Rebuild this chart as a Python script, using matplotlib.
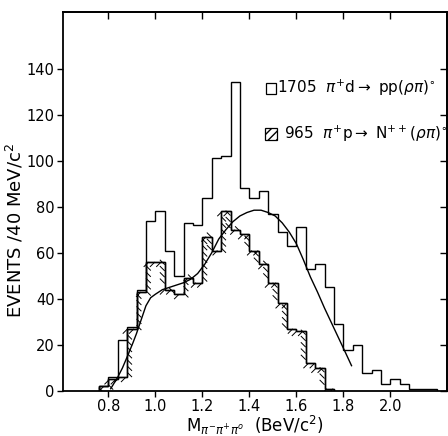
import numpy as np
import matplotlib
matplotlib.use('Agg')
import matplotlib.pyplot as plt
import matplotlib.patheffects as pe
from matplotlib.patches import Rectangle

# 40 MeV bins starting at 0.76 BeV
bin_start = 0.76
bin_width = 0.04

# pi+ d -> pp (rho pi)0  (open histogram)
open_counts = [2, 6, 22, 28, 44, 74, 78, 61, 50, 73, 72, 84,
               101, 102, 134, 88, 84, 87, 77, 69, 63, 71, 53, 55,
               45, 29, 18, 20, 8, 9, 3, 5, 3, 1, 1, 1]

# pi+ p -> N++ (rho pi)0  (hatched histogram)
hatched_counts = [2, 5, 6, 27, 43, 56, 56, 44, 42, 49, 47, 67,
                  61, 78, 70, 68, 61, 55, 47, 38, 27, 26, 12, 10, 1]

# smooth curve drawn on the plot
curve_mass = [0.81, 0.84, 0.86, 0.885, 0.905, 0.92, 0.94, 0.96, 0.98, 1.00,
              1.03, 1.06, 1.09, 1.12, 1.15, 1.18, 1.21, 1.24, 1.27, 1.30,
              1.33, 1.36, 1.39, 1.42, 1.45, 1.48, 1.51, 1.54, 1.57, 1.60,
              1.63, 1.66, 1.69, 1.72, 1.75, 1.78, 1.81, 1.835]
curve_events = [1, 6, 10, 16, 21, 25, 31, 37, 40.5, 42,
                44, 45, 46, 47, 48.5, 51, 55, 60, 66, 70,
                73.5, 76, 77.5, 78.5, 78.5, 77.5, 76, 73, 69, 64,
                57, 49.5, 43, 36, 29.5, 23, 16.5, 11]

xticks = [0.8, 1.0, 1.2, 1.4, 1.6, 1.8, 2.0]
xtick_labels = ['0.8', '1.0', '1.2', '1.4', '1.6', '1.8', '2.0']
yticks = [0, 20, 40, 60, 80, 100, 120, 140]

plt.rcParams['font.family'] = ['DejaVu Sans']
plt.rcParams['mathtext.fontset'] = 'dejavusans'

fig = plt.figure(figsize=(4.48, 4.36), dpi=100)
ax = fig.add_axes([0.1406, 0.1032, 0.857, 0.869])

open_edges = np.round(bin_start + bin_width * np.arange(len(open_counts) + 1), 2)
hatch_edges = np.round(bin_start + bin_width * np.arange(len(hatched_counts) + 1), 2)

ax.stairs(open_counts, open_edges, baseline=0, color='black', lw=1.0)

hs = ax.stairs(hatched_counts, hatch_edges, baseline=0, color='black', lw=1.0)
hs.set_path_effects([pe.Stroke(linewidth=1.0, foreground='black'),
                     pe.withTickedStroke(angle=-135, spacing=4.5, length=1.1,
                                         linewidth=0.7, foreground='black')])

ax.plot(curve_mass, curve_events, color='black', lw=1.0)

ax.set_xlim(0.607, 2.241)
ax.set_ylim(0, 164.5)

ax.set_xticks(xticks)
ax.set_xticklabels(xtick_labels)
ax.set_yticks(yticks)
ax.tick_params(axis='both', direction='out', length=4, width=1, labelsize=10.5, pad=2)

top = ax.secondary_xaxis('top')
top.set_xticks(xticks)
top.tick_params(direction='in', length=5, width=1, labeltop=False)
right = ax.secondary_yaxis('right')
right.set_yticks(yticks)
right.tick_params(direction='in', length=5, width=1, labelright=False)

for s in list(ax.spines.values()) + [top.spines['top'], right.spines['right']]:
    s.set_linewidth(1.3)

ax.set_ylabel('EVENTS /40 MeV/c$^2$', fontsize=13, va='center')
ax.yaxis.set_label_coords(-0.124, 0.423)
ax.set_xlabel(r'M$_{\pi^{-}\pi^{+}\pi^{o}}$  (BeV/c$^2$)', fontsize=12, va='center')
ax.xaxis.set_label_coords(0.5, -0.09)

# legend boxes and text
ax.add_patch(Rectangle((0.530, 0.785), 0.026, 0.027, transform=ax.transAxes,
                       fill=False, lw=0.9, ec='black'))
ax.add_patch(Rectangle((0.527, 0.663), 0.030, 0.030, transform=ax.transAxes,
                       fill=False, hatch='////', lw=0.9, ec='black'))
ax.text(0.558, 0.799, r'1705  $\pi^{+}$d$\rightarrow$ pp$(\rho\pi)^{\circ}$',
        transform=ax.transAxes, fontsize=11, va='center', ha='left', clip_on=False)
ax.text(0.575, 0.678, r'965  $\pi^{+}$p$\rightarrow$ N$^{++}$$(\rho\pi)^{\circ}$',
        transform=ax.transAxes, fontsize=11, va='center', ha='left', clip_on=False)

fig.savefig('out.png', dpi=100)
